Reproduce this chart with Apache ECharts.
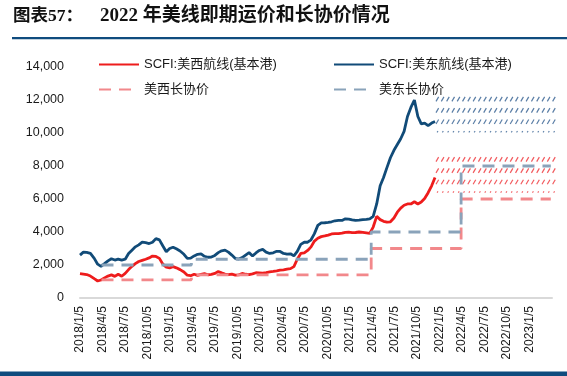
<!DOCTYPE html>
<html><head><meta charset="utf-8">
<script src="https://cdn.jsdelivr.net/npm/echarts@6/dist/echarts.min.js"></script>
<style>html,body{margin:0;padding:0;background:#fff}#c{width:567px;height:376px}</style>
</head><body><div id="c"></div>
<script>
// ---- data ----
const spotStart = '2018/1/5';
const spotStepDays = 14;
const westSpot = [1480,1450,1420,1330,1170,1030,1090,1220,1330,1400,1310,1440,1320,1490,1720,1920,2080,2210,2280,2350,
  2430,2540,2520,2400,2050,1870,1830,1900,1830,1720,1580,1380,1350,1440,1370,1430,1480,1410,1430,1490,
  1600,1520,1450,1410,1450,1390,1400,1490,1440,1410,1460,1530,1520,1510,1540,1580,1610,1650,1690,1710,
  1750,1780,1900,2350,2700,2730,2880,3100,3450,3620,3720,3760,3810,3880,3900,3900,3930,3980,3990,3960,
  3970,4000,3980,3950,3920,4300,4950,4750,4650,4600,4620,4850,5200,5450,5620,5700,5700,5830,5700,5820,
  6030,6380,6800,7300];
const eastSpot = [2600,2780,2760,2700,2400,2050,1920,2080,2250,2380,2300,2360,2300,2350,2700,2900,3100,3220,3380,3350,
  3300,3380,3600,3520,3150,2800,3000,3080,2980,2850,2650,2400,2420,2550,2650,2680,2530,2470,2480,2580,
  2750,2860,2900,2780,2600,2400,2360,2450,2600,2750,2550,2730,2880,2950,2780,2700,2740,2830,2820,2700,
  2660,2680,2550,2820,3250,3380,3380,3530,3900,4400,4550,4560,4590,4620,4680,4700,4700,4800,4780,4730,
  4700,4720,4750,4770,4800,4950,5700,6800,7300,7900,8500,8950,9300,9650,10100,11000,11550,12000,11000,10550,
  10600,10450,10600,10700];
const contractStarts = ['2018/4/1','2019/4/1','2021/4/1','2022/4/1'];
const contractEnd = '2023/3/31';
const westContract = [1100,1400,3000,6000];
const eastContract = [2000,2350,4000,8000];
const hatchRangeX = ['2021/12/17','2023/4/25'];
const westHatch = [6400, 8600];
const eastHatch = [10000, 12250];
const xTickLabels = ['2018/1/5','2018/4/5','2018/7/5','2018/10/5','2019/1/5','2019/4/5','2019/7/5','2019/10/5',
  '2020/1/5','2020/4/5','2020/7/5','2020/10/5','2021/1/5','2021/4/5','2021/7/5','2021/10/5',
  '2022/1/5','2022/4/5','2022/7/5','2022/10/5','2023/1/5'];
const names = ['SCFI:美西航线(基本港)','SCFI:美东航线(基本港)','美西长协价','美东长协价'];

// ---- helpers ----
function qOf(y, m, d) {
  const dim = new Date(y, m, 0).getDate();
  return ((y - 2018) * 12 + (m - 1) + (d - 5) / dim) / 3;
}
function dateToQ(s) { const p = s.split('/').map(Number); return qOf(p[0], p[1], p[2]); }
const startParts = spotStart.split('/').map(Number);
function spotData(vals) {
  return vals.map((v, k) => {
    const dt = new Date(startParts[0], startParts[1] - 1, startParts[2] + k * spotStepDays);
    return [qOf(dt.getFullYear(), dt.getMonth() + 1, dt.getDate()), v];
  });
}
function contractData(vals) {
  const out = contractStarts.map((s, i) => [dateToQ(s), vals[i]]);
  out.push([dateToQ(contractEnd), vals[vals.length - 1]]);
  return out;
}
function hatchRender(color) {
  return function (params, api) {
    const p0 = api.coord([api.value(0), api.value(3)]);
    const p1 = api.coord([api.value(1), api.value(2)]);
    const children = [];
    const rows = Math.ceil((p1[1] - p0[1]) / 11.3);
    for (let i = 0; i < rows; i++) {
      const y = p0[1] + 1 + i * 11.3;
      const dotted = i === rows - 1;
      for (let x = p0[0] + 1; x < p1[0] - 2; x += 5.3) {
        if (dotted) children.push({type: 'line', shape: {x1: x + 1, y1: y + 1.6, x2: x + 2, y2: y + 0.4}, style: {stroke: color, lineWidth: 1.1}});
        else children.push({type: 'line', shape: {x1: x, y1: y + 4.5, x2: x + 2.6, y2: y}, style: {stroke: color, lineWidth: 1.2}});
      }
    }
    return {type: 'group', children};
  };
}

const RED = '#EE1C1C', NAVY = '#114B78', PINK = '#F2888B', GREYBLUE = '#8AA3BA';
const FONT = "'Liberation Sans', 'Noto Sans CJK SC', sans-serif";
const chart = echarts.init(document.getElementById('c'), null, {renderer: 'canvas'});
const legendBase = {itemWidth: 40, itemHeight: 14, selectedMode: false,
  itemStyle: {color: 'transparent', borderColor: 'transparent', borderWidth: 0, opacity: 0},
  textStyle: {fontFamily: FONT, fontSize: 13, color: '#1a1a1a'}};
chart.setOption({
  animation: false,
  grid: {left: 80, right: 15, top: 67, bottom: 78, containLabel: false},
  legend: [
    Object.assign({data: [names[0]], left: 93, top: 53}, legendBase),
    Object.assign({data: [names[1]], left: 328, top: 53}, legendBase),
    Object.assign({data: [names[2]], left: 93, top: 78}, legendBase),
    Object.assign({data: [names[3]], left: 328, top: 78}, legendBase)
  ],
  xAxis: {
    type: 'value', min: 0, max: 21, interval: 1,
    axisLine: {show: true, lineStyle: {color: '#d9d9d9', width: 2}},
    axisTick: {show: false}, splitLine: {show: false},
    axisLabel: {rotate: 90, margin: 8, fontFamily: FONT, fontSize: 12, color: '#1a1a1a',
      formatter: v => xTickLabels[Math.round(v)] || ''}
  },
  yAxis: {
    type: 'value', min: 0, max: 14000, interval: 2000,
    axisLine: {show: false}, axisTick: {show: false}, splitLine: {show: false},
    axisLabel: {margin: 16, fontFamily: FONT, fontSize: 12.5, color: '#1a1a1a',
      formatter: v => v.toLocaleString('en-US')}
  },
  graphic: [
    {type: 'text', left: 13, top: 8, style: {text: '图表57：', font: "bold 17.5px 'Liberation Serif', 'Noto Sans CJK SC'", fill: '#111'}},
    {type: 'text', left: 100, top: 7, style: {text: '2022 年美线即期运价和长协价情况', font: "bold 19px 'Liberation Serif', 'Noto Sans CJK SC'", fill: '#111'}},
    {type: 'rect', shape: {x: 12, y: 37, width: 555, height: 2.2}, style: {fill: '#0F4C7E'}},
    {type: 'rect', shape: {x: 0, y: 371.5, width: 567, height: 5}, style: {fill: '#0F4C7E'}}
  ],
  series: [
    {type: 'custom', clip: false, silent: true, renderItem: hatchRender('#5A7EA6'),
      encode: {x: [0, 1], y: [2, 3]},
      data: [[dateToQ(hatchRangeX[0]), dateToQ(hatchRangeX[1]), eastHatch[0], eastHatch[1]]]},
    {type: 'custom', clip: false, silent: true, renderItem: hatchRender('#F25A5E'),
      encode: {x: [0, 1], y: [2, 3]},
      data: [[dateToQ(hatchRangeX[0]), dateToQ(hatchRangeX[1]), westHatch[0], westHatch[1]]]},
    {name: names[0], type: 'line', symbol: 'none', color: RED, lineStyle: {color: RED, width: 2.8}, data: spotData(westSpot), z: 3},
    {name: names[1], type: 'line', symbol: 'none', color: NAVY, lineStyle: {color: NAVY, width: 2.8}, data: spotData(eastSpot), z: 3},
    {name: names[2], type: 'line', symbol: 'none', step: 'end', color: PINK, lineStyle: {color: PINK, width: 2.8, type: [12, 8]}, data: contractData(westContract), z: 4},
    {name: names[3], type: 'line', symbol: 'none', step: 'end', color: GREYBLUE, lineStyle: {color: GREYBLUE, width: 2.8, type: [12, 8]}, data: contractData(eastContract), z: 4}
  ]
});
</script></body></html>
